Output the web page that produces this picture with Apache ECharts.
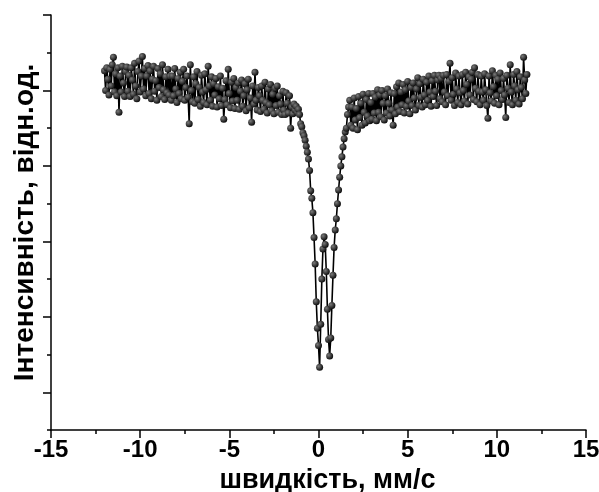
<html lang="en">
<head>
	<meta charset="UTF-8">
	<title></title>
	<style>
		html, body { margin: 0; padding: 0; background: #fff; }
		#chart { width: 599px; height: 492px; }
	</style>
</head>
<body>
	<div id="chart"></div>
	<script type="text/javascript" src="https://cdn.jsdelivr.net/npm/echarts@6/dist/echarts.min.js"></script>
	<script type="text/javascript">
		// velocity scale of the spectrum, mm/s
		var vStart = -12.0
		var vStep = 0.0625

		// intensity, left wing
		var leftWing = [
			102.6, 100.0, 103.0, 101.5, 99.4, 102.8, 100.6, 103.4, 104.4, 99.8, 102.2, 99.3, 103.0, 97.1, 101.9, 99.8, 103.2, 101.0, 99.2, 102.5,
			103.1, 99.9, 102.0, 99.2, 103.0, 101.4, 99.5, 103.6, 100.6, 98.9, 102.5, 103.9, 99.8, 101.9, 104.5, 100.2, 102.9, 99.3, 101.9, 103.3,
			99.6, 102.6, 98.9, 101.5, 103.2, 99.9, 101.3, 98.7, 102.9, 100.4, 102.2, 99.2, 103.4, 100.1, 98.8, 101.8, 99.7, 102.8, 99.4, 101.9,
			98.7, 101.9, 99.3, 102.9, 100.2, 98.4, 101.6, 99.6, 102.4, 98.9, 101.2, 102.8, 98.7, 100.4, 101.9, 99.1, 95.6, 103.4, 100.0, 98.5,
			101.8, 98.3, 100.9, 102.5, 98.8, 100.4, 97.9, 102.0, 99.8, 98.4, 102.2, 100.1, 98.1, 103.2, 100.6, 98.7, 101.8, 97.9, 100.9, 99.4,
			101.6, 97.8, 100.5, 98.9, 101.9, 98.0, 100.3, 96.2, 98.8, 101.3, 98.1, 102.8, 99.6, 97.7, 101.1, 98.6, 101.6, 97.6, 100.4, 98.7,
			101.0, 97.5, 99.9, 101.4, 97.9, 99.3, 100.9, 97.3, 100.1, 101.5, 97.7, 99.0, 95.8, 100.6, 98.2, 102.4, 98.7, 97.4, 100.4, 99.3,
			97.2, 100.6, 98.7, 97.5, 101.1, 98.4, 97.0, 100.2, 98.1, 100.8, 97.3, 99.5, 96.9, 100.3, 98.0, 100.6, 97.1, 99.3, 98.2, 96.8,
			99.9, 97.4, 96.8, 99.7, 98.3, 97.0, 99.3, 95.0, 97.8, 96.9
		]

		// intensity, absorption doublet
		var dip = [
			98.2, 97.4, 97.9, 97.1, 97.5, 96.8, 95.6, 95.2, 94.4, 94.0,
			93.4, 92.6, 91.8, 90.9, 89.4, 86.7, 85.7, 83.8, 80.5, 77.0,
			72.0, 68.5, 66.2, 63.3, 69.0, 75.0, 79.0, 80.6, 79.6, 76.0,
			71.0, 67.0, 64.8, 67.2, 71.5, 75.5, 79.2, 81.5, 83.0, 85.0,
			86.8, 88.5, 90.0, 91.2, 92.5, 93.6, 94.5, 95.0, 96.8, 97.8
		]

		// intensity, right wing
		var rightWing = [
			98.7, 95.4, 97.8, 95.0, 99.0, 96.1, 97.6, 94.8, 99.2, 96.4, 98.3, 95.4, 99.5, 97.1, 95.7, 98.8, 96.6, 99.6, 96.0, 98.4,
			96.2, 99.6, 97.0, 99.1, 96.0, 100.1, 97.1, 99.4, 96.5, 100.0, 98.3, 96.1, 99.3, 97.0, 100.2, 98.3, 96.6, 99.7, 97.4, 95.4,
			99.6, 96.9, 100.5, 97.8, 101.0, 97.2, 99.8, 98.1, 100.8, 97.0, 100.1, 97.9, 101.2, 98.6, 96.9, 100.4, 98.0, 101.0, 99.0, 97.4,
			100.2, 101.7, 98.0, 100.9, 99.1, 97.8, 101.5, 99.4, 98.1, 101.1, 98.7, 101.9, 99.8, 97.9, 101.3, 99.2, 102.0, 99.9, 98.0, 101.4,
			102.0, 98.9, 101.6, 98.5, 102.0, 99.8, 98.1, 102.1, 99.3, 101.2, 103.6, 98.7, 101.7, 99.5, 98.0, 102.3, 100.2, 98.4, 101.9, 99.7,
			98.1, 102.1, 100.0, 98.6, 102.4, 100.8, 98.2, 101.8, 99.4, 101.5, 102.4, 98.8, 103.0, 100.3, 98.5, 102.1, 99.9, 98.1, 101.9, 99.8,
			98.7, 102.2, 100.1, 98.0, 96.3, 101.9, 99.7, 98.6, 102.6, 100.5, 98.3, 102.0, 99.3, 101.5, 98.1, 102.3, 100.0, 98.8, 101.6, 99.4,
			96.4, 102.0, 100.3, 98.4, 103.4, 99.8, 98.1, 102.1, 100.6, 98.7, 102.5, 100.1, 98.2, 101.8, 100.4, 98.9, 104.4, 101.4, 99.6, 102.1
		]

		var xTicks = [-15, -10, -5, 0, 5, 10, 15]
		var yMajor = [60, 70, 80, 90, 100, 110]
		var yMinor = [55, 65, 75, 85, 95, 105]

		var intensity = leftWing.concat(dip, rightWing)
		var points = intensity.map(function (v, i) {
			return [vStart + vStep * i, v]
		})

		var font = 'Liberation Sans, Arial, sans-serif'
		var ball = {
			type: 'radial', x: 0.35, y: 0.35, r: 0.75,
			colorStops: [{ offset: 0, color: '#7a7a7a' }, { offset: 1, color: '#000' }]
		}

		var option = {
			animation: false,
			backgroundColor: '#fff',
			grid: { left: 51, right: 13, top: 15, bottom: 62, containLabel: false, outerBoundsMode: 'none' },
			xAxis: {
				type: 'value',
				min: xTicks[0],
				max: xTicks[xTicks.length - 1],
				interval: 5,
				name: 'швидкість, мм/с',
				nameLocation: 'middle',
				nameGap: 28,
				nameTextStyle: { color: '#000', fontSize: 27, fontWeight: 'bold', fontFamily: font, padding: [0, 0, 0, 18] },
				axisLine: { onZero: false, lineStyle: { color: '#000', width: 1.5 } },
				axisTick: { length: 8, lineStyle: { color: '#000', width: 1.5 } },
				minorTick: { show: true, splitNumber: 2, length: 4, lineStyle: { color: '#000', width: 1.5 } },
				axisLabel: { color: '#000', fontSize: 24, fontWeight: 'bold', fontFamily: font, margin: 8 },
				splitLine: { show: false }
			},
			yAxis: [{
				type: 'value',
				min: 55,
				max: 110,
				name: 'Інтенсивність, відн.од.',
				nameLocation: 'middle',
				nameGap: 12,
				nameTextStyle: { color: '#000', fontSize: 28, fontWeight: 'bold', fontFamily: font },
				axisLine: { show: true, onZero: false, lineStyle: { color: '#000', width: 1.5 } },
				axisTick: { show: true, length: 8, customValues: yMajor, lineStyle: { color: '#000', width: 1.5 } },
				axisLabel: { show: false },
				splitLine: { show: false }
			}, {
				type: 'value',
				min: 55,
				max: 110,
				position: 'left',
				axisLine: { show: false, onZero: false },
				axisTick: { show: true, length: 4, customValues: yMinor, lineStyle: { color: '#000', width: 1.5 } },
				axisLabel: { show: false },
				splitLine: { show: false }
			}],
			series: [{
				type: 'line',
				data: points,
				symbol: 'circle',
				symbolSize: 7,
				showAllSymbol: true,
				lineStyle: { color: '#000', width: 1.6 },
				itemStyle: { color: ball, borderWidth: 0 }
			}]
		}

		var myChart = echarts.init(document.getElementById('chart'))
		myChart.setOption(option)
	</script>
</body>
</html>
